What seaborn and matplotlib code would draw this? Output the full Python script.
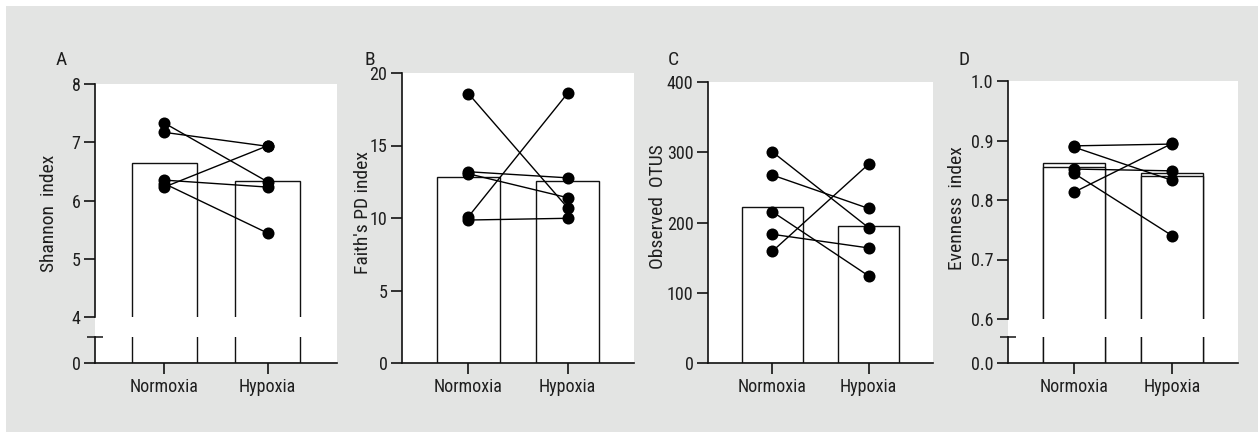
import numpy as np
import pandas as pd
import matplotlib
matplotlib.use("Agg")
import matplotlib.pyplot as plt
from matplotlib.patches import Rectangle
import seaborn as sns

sns.set_style("ticks")
plt.rcParams["font.family"] = ["Roboto Condensed", "Liberation Sans", "DejaVu Sans"]
plt.rcParams["text.color"] = "#1e1e1e"
plt.rcParams["xtick.labelcolor"] = "#1e1e1e"
plt.rcParams["ytick.labelcolor"] = "#1e1e1e"

W, H = 1258, 432
BG = "#e3e4e3"

groups = ["Normoxia", "Hypoxia"]

# A - Shannon index (paired samples)
shannon_norm = [7.33, 7.17, 6.23, 6.35, 6.29]
shannon_hyp = [6.32, 6.93, 6.94, 6.23, 5.44]
shannon_bar = [6.64, 6.33]

# B - Faith's PD
faith_norm = [18.58, 13.19, 13.05, 10.09, 9.86]
faith_hyp = [10.71, 12.77, 11.40, 18.60, 9.98]
faith_bar = [12.84, 12.57]

# C - Observed OTUs
otus_norm = [300.5, 267.5, 215.3, 183.2, 159.1]
otus_hyp = [192.6, 220.0, 124.0, 163.8, 283.0]
otus_bar = [222.4, 195.0]

# D - Evenness
even_norm = [0.891, 0.889, 0.852, 0.845, 0.813]
even_hyp = [0.894, 0.833, 0.849, 0.740, 0.895]
even_bar = [0.856, 0.840]
even_bar_outline = [0.862, 0.846]


def paired_frame(a, b):
    n = len(a)
    return pd.DataFrame({
        "subject": list(range(n)) * 2,
        "pos": [0] * n + [1] * n,
        "value": list(a) + list(b),
    })


def px_axes(fig, x0, x1, y0, y1, **kw):
    return fig.add_axes([x0 / W, (H - y1) / H, (x1 - x0) / W, (y1 - y0) / H], **kw)


def style_axes(ax):
    ax.set_facecolor("white")
    for s in ["top", "right"]:
        ax.spines[s].set_visible(False)
    for s in ["left", "bottom"]:
        ax.spines[s].set_linewidth(1.2)
        ax.spines[s].set_color("#111111")
    ax.tick_params(axis="both", length=8, width=1.2, labelsize=13, pad=2.5, color="#111111")
    ax.set_xlim(-0.67, 1.67)
    ax.set_xlabel("")
    ax.set_ylabel("")


def draw_bars(ax, heights, fill="white"):
    sns.barplot(x=groups, y=heights, order=groups, color=fill, edgecolor="#111111",
                linewidth=1.0, width=0.63, ax=ax, zorder=1)


def draw_pairs(ax, a, b):
    df = paired_frame(a, b)
    sns.lineplot(data=df, x="pos", y="value", units="subject", estimator=None,
                 color="black", linewidth=1.0, ax=ax, zorder=3)
    sns.scatterplot(data=df, x="pos", y="value", color="black", s=75,
                    linewidth=0, ax=ax, zorder=4)


fig = plt.figure(figsize=(W / 100, H / 100), dpi=100)
fig.patch.set_facecolor("white")
fig.add_artist(Rectangle((6 / W, 0), 1, (H - 6) / H, transform=fig.transFigure,
                         facecolor=BG, edgecolor="none", zorder=-2))


def white_panel(x0, x1, y0, y1):
    fig.add_artist(Rectangle((x0 / W, (H - y1) / H), (x1 - x0) / W, (y1 - y0) / H,
                             transform=fig.transFigure, facecolor="white",
                             edgecolor="none", zorder=-1))


def broken_panel(x0, x1, ytop, ybrk_hi, ybrk_lo, ybot, norm, hyp, bars, ylim_hi, yticks_hi,
                 lower_top, fmt, extra_bars=None):
    white_panel(x0, x1, ytop, ybot)
    ax_hi = px_axes(fig, x0, x1, ytop, ybrk_hi)
    ax_lo = px_axes(fig, x0, x1, ybrk_lo, ybot)
    for ax in (ax_hi, ax_lo):
        if extra_bars is not None:
            draw_bars(ax, extra_bars)
        draw_bars(ax, bars)
    draw_pairs(ax_hi, norm, hyp)
    style_axes(ax_hi)
    style_axes(ax_lo)
    ax_hi.set_ylim(*ylim_hi)
    ax_hi.set_yticks(yticks_hi)
    ax_hi.set_yticklabels([fmt.format(t) for t in yticks_hi])
    ax_hi.spines["bottom"].set_visible(False)
    ax_hi.tick_params(axis="x", bottom=False, labelbottom=False)
    ax_lo.set_ylim(0, lower_top)
    ax_lo.set_yticks([0])
    ax_lo.set_yticklabels([fmt.format(0)])
    ax_lo.set_yticks([lower_top], minor=True)
    ax_lo.tick_params(axis="y", which="minor", direction="inout", length=12, width=1.2)
    ax_lo.set_xticks([0, 1])
    ax_lo.set_xticklabels(groups)
    return ax_hi, ax_lo


def plain_panel(x0, x1, ytop, ybot, norm, hyp, bars, ymax, yticks):
    ax = px_axes(fig, x0, x1, ytop, ybot)
    draw_bars(ax, bars)
    draw_pairs(ax, norm, hyp)
    style_axes(ax)
    ax.set_ylim(0, ymax)
    ax.set_yticks(yticks)
    ax.set_xticks([0, 1])
    ax.set_xticklabels(groups)
    return ax


# A
broken_panel(95, 337, 84, 317, 337, 363, shannon_norm, shannon_hyp, shannon_bar,
             (4, 8), [4, 5, 6, 7, 8], 1.0, "{:g}")
# B
plain_panel(402, 634, 73, 363, faith_norm, faith_hyp, faith_bar, 20, [0, 5, 10, 15, 20])
# C
plain_panel(708, 933, 82, 363, otus_norm, otus_hyp, otus_bar, 400, [0, 100, 200, 300, 400])
# D
broken_panel(1008, 1238, 81, 319, 337, 363, even_norm, even_hyp, even_bar,
             (0.6, 1.0), [0.6, 0.7, 0.8, 0.9, 1.0], 0.1, "{:.1f}", extra_bars=even_bar_outline)

# panel letters
for letter, x in zip(["A", "B", "C", "D"], [56, 365, 668, 958]):
    fig.text(x / W, (H - 65) / H, letter, fontsize=14, ha="left", va="baseline")

# y labels
for label, x, y in zip(["Shannon  index", "Faith's PD index", "Observed  OTUS", "Evenness  index"],
                       [49, 363, 658, 957], [213, 213, 207, 208]):
    fig.text(x / W, (H - y) / H, label, fontsize=14, rotation=90, ha="center", va="center")

fig.savefig("out.png", dpi=100, facecolor=fig.get_facecolor())
